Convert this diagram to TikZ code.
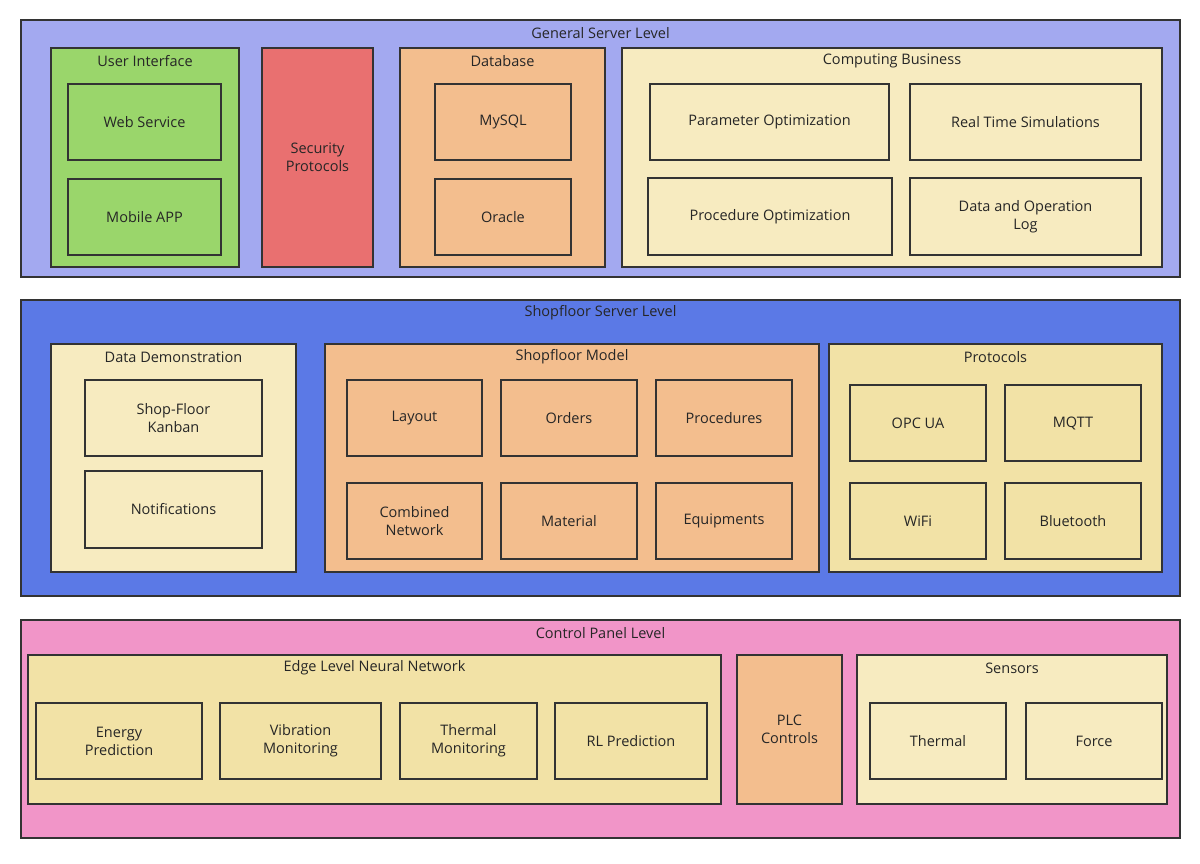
\documentclass[tikz,border=0pt]{standalone}
\usepackage{fontspec}
\setmainfont{Open Sans}
\definecolor{gsl}{HTML}{A3A9F0}
\definecolor{ssl}{HTML}{5B79E6}
\definecolor{cpl}{HTML}{F195C8}
\definecolor{grn}{HTML}{9AD66B}
\definecolor{red1}{HTML}{E97070}
\definecolor{org}{HTML}{F3BE8E}
\definecolor{crm}{HTML}{F7EBC0}
\definecolor{yel}{HTML}{F2E2A6}
\definecolor{edge}{HTML}{333333}
\tikzset{box/.style={draw=edge,line width=1.6pt},
 lbl/.style={align=center,font=\fontsize{14.5}{18}\selectfont,text=black!85,inner sep=0pt}}
% leaf box: name x1 y1 x2 y2 fill text
\newcommand\leafbox[7]{\draw[box,fill=#6] (#2,#3) rectangle (#4,#5);
 \node[lbl] (#1) at ({(#2+#4)/2},{(#3+#5)/2}) {#7};}
% container: name x1 y1 x2 y2 fill title
\newcommand\contbox[7]{\draw[box,fill=#6] (#2,#3) rectangle (#4,#5);
 \node[lbl] (#1) at ({(#2+#4)/2},{#3+13}) {#7};}
\begin{document}
\begin{tikzpicture}[x=1pt,y=-1pt]
\useasboundingbox[fill=white] (0,0) rectangle (1200,864);
% General server level
\contbox{gen}{21}{20}{1180}{277}{gsl}{General Server Level}
\contbox{ui}{51}{48}{239}{267}{grn}{User Interface}
\leafbox{web}{68}{84}{221}{160}{grn}{Web Service}
\leafbox{app}{68}{179}{221}{255}{grn}{Mobile APP}
\leafbox{sec}{262}{48}{373}{267}{red1}{Security\\Protocols}
\contbox{db}{400}{48}{605}{267}{org}{Database}
\leafbox{mysql}{435}{84}{571}{160}{org}{MySQL}
\leafbox{oracle}{435}{179}{571}{255}{org}{Oracle}
\contbox{cb}{622}{48}{1162}{267}{crm}{Computing Business}
\leafbox{po}{650}{84}{889}{160}{crm}{Parameter Optimization}
\leafbox{rts}{910}{84}{1141}{160}{crm}{Real Time Simulations}
\leafbox{pro}{648}{178}{892}{255}{crm}{Procedure Optimization}
\leafbox{dol}{910}{178}{1141}{255}{crm}{Data and Operation\\Log}
% Shopfloor server level
\contbox{ssl}{21}{300}{1180}{596}{ssl}{Shopfloor Server Level}
\contbox{dd}{51}{344}{296}{572}{crm}{Data Demonstration}
\leafbox{kan}{85}{380}{262}{456}{crm}{Shop-Floor\\Kanban}
\leafbox{noti}{85}{471}{262}{548}{crm}{Notifications}
\contbox{sm}{325}{344}{819}{572}{org}{Shopfloor Model}
\leafbox{lay}{347}{380}{482}{456}{org}{Layout}
\leafbox{ord}{501}{380}{637}{456}{org}{Orders}
\leafbox{proc}{656}{380}{792}{456}{org}{Procedures}
\leafbox{cn}{347}{483}{482}{559}{org}{Combined\\Network}
\leafbox{mat}{501}{483}{637}{559}{org}{Material}
\leafbox{equ}{656}{483}{792}{559}{org}{Equipments}
\contbox{prot}{829}{344}{1162}{572}{yel}{Protocols}
\leafbox{opc}{850}{385}{986}{461}{yel}{OPC UA}
\leafbox{mqtt}{1005}{385}{1141}{461}{yel}{MQTT}
\leafbox{wifi}{850}{483}{986}{559}{yel}{WiFi}
\leafbox{bt}{1005}{483}{1141}{559}{yel}{Bluetooth}
% Control panel level
\contbox{cpl}{21}{620}{1180}{838}{cpl}{Control Panel Level}
\contbox{nn}{28}{655}{721}{804}{yel}{Edge Level Neural Network}
\leafbox{ep}{36}{703}{202}{779}{yel}{Energy\\Prediction}
\leafbox{vm}{220}{703}{381}{779}{yel}{Vibration\\Monitoring}
\leafbox{tm}{400}{703}{537}{779}{yel}{Thermal\\Monitoring}
\leafbox{rl}{555}{703}{707}{779}{yel}{RL Prediction}
\leafbox{plc}{737}{655}{842}{804}{org}{PLC\\Controls}
\contbox{sens}{857}{655}{1167}{804}{crm}{Sensors}
\leafbox{th}{870}{703}{1006}{779}{crm}{Thermal}
\leafbox{force}{1026}{703}{1162}{779}{crm}{Force}
\end{tikzpicture}
\end{document}
